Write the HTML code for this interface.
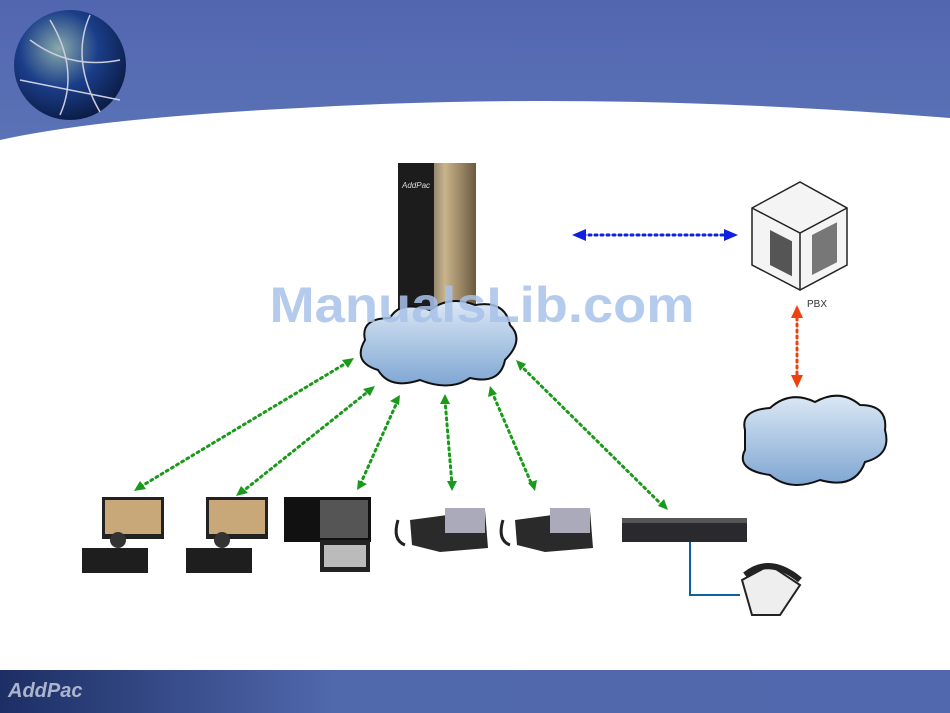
<!DOCTYPE html>
<html><head><style>html,body{margin:0;padding:0;background:#fff}svg{display:block}</style></head>
<body>
<svg width="950" height="713" viewBox="0 0 950 713" xmlns="http://www.w3.org/2000/svg">
<defs>
<linearGradient id="hdr" x1="0" y1="0" x2="0" y2="1"><stop offset="0" stop-color="#5266b0"/><stop offset="1" stop-color="#5a72b6"/></linearGradient>
<linearGradient id="ftr" x1="0" y1="0" x2="1" y2="0"><stop offset="0" stop-color="#1c2e64"/><stop offset="0.35" stop-color="#5068ac"/><stop offset="1" stop-color="#5268ae"/></linearGradient>
<radialGradient id="globe" cx="0.4" cy="0.35" r="0.7"><stop offset="0" stop-color="#8aa"/><stop offset="0.5" stop-color="#1b3e8a"/><stop offset="1" stop-color="#0a1a40"/></radialGradient>
<linearGradient id="cl" x1="0" y1="0" x2="0" y2="1"><stop offset="0" stop-color="#dbe8f5"/><stop offset="1" stop-color="#7fa6d2"/></linearGradient>
<linearGradient id="gw" x1="0" y1="0" x2="1" y2="0"><stop offset="0" stop-color="#222"/><stop offset="0.3" stop-color="#555"/><stop offset="0.6" stop-color="#c9b48a"/><stop offset="1" stop-color="#6b5a40"/></linearGradient>
</defs>
<path d="M0 0H950V118Q600 90 300 108Q100 118 0 140Z" fill="url(#hdr)"/>
<ellipse cx="70" cy="65" rx="56" ry="55" fill="url(#globe)"/>
<path d="M30 40Q70 70 120 60M20 80Q70 90 120 100M50 20Q80 70 60 115M90 15Q70 60 100 112" stroke="#ccd" stroke-width="1.5" fill="none"/>
<rect x="0" y="670" width="950" height="43" fill="url(#ftr)"/>
<text x="8" y="697" font-family="Liberation Sans, sans-serif" font-size="20" font-style="italic" font-weight="bold" fill="#aab4cc">AddPac</text>
<rect x="398" y="163" width="78" height="165" fill="url(#gw)"/>
<rect x="398" y="163" width="36" height="165" fill="#1c1c1c"/>
<text x="402" y="188" font-family="Liberation Sans, sans-serif" font-size="8" font-style="italic" fill="#ddd">AddPac</text>
<g fill="url(#cl)" stroke="#111" stroke-width="2">
<path d="M365 340Q360 318 390 318Q400 300 430 310Q450 295 475 305Q505 300 510 325Q525 340 505 360Q500 385 470 378Q450 392 420 380Q390 390 378 370Q352 362 365 340Z"/>
<path d="M745 430Q740 410 770 408Q790 390 815 402Q840 388 860 405Q888 405 885 430Q892 455 865 462Q855 490 820 480Q790 492 770 475Q735 470 745 450Z"/>
</g>
<text x="482" y="322" text-anchor="middle" font-family="Liberation Sans, sans-serif" font-size="50" font-weight="bold" fill="#a9c2ea" opacity="0.85" textLength="425" lengthAdjust="spacingAndGlyphs">ManualsLib.com</text>
<path d="M752 208L800 182L847 208L847 265L800 290L752 265Z" fill="#f4f4f4" stroke="#222" stroke-width="1.5"/>
<path d="M752 208L800 233L847 208M800 233V290" stroke="#222" fill="none" stroke-width="1.5"/>
<rect x="770" y="230" width="22" height="35" fill="#555" transform="skewY(27)" transform-origin="770 230"/>
<rect x="812" y="235" width="25" height="40" fill="#777" transform="skewY(-27)" transform-origin="812 255"/>
<text x="817" y="307" text-anchor="middle" font-family="Liberation Sans, sans-serif" font-size="10" fill="#333">PBX</text>
<g stroke-width="3" stroke-dasharray="2 4" fill="none" stroke-linecap="round">
<path d="M583 235H730" stroke="#1020e0"/>
<path d="M797 312V380" stroke="#f04010"/>
<g stroke="#1a9a1a">
<path d="M348 362L140 487M370 390L242 492M398 400L360 485M445 400L452 485M492 392L532 485M520 365L662 505"/>
</g></g>
<g fill="#1020e0"><path d="M572 235L586 229V241Z"/><path d="M738 232L724 226V238Z" transform="translate(0 3)"/></g>
<g fill="#f04010"><path d="M797 305L791 318H803Z"/><path d="M797 388L791 375H803Z"/></g>
<g fill="#1a9a1a">
<path d="M354 358l-12 2 6 8z"/><path d="M134 491l12-2-6-8z"/>
<path d="M375 386l-12 3 7 7z"/><path d="M236 496l12-3-7-7z"/>
<path d="M400 395l-10 6 9 4z"/><path d="M357 490l10-6-9-4z"/>
<path d="M445 394l-5 10h10z"/><path d="M452 491l-5-10h10z"/>
<path d="M490 386l-2 11 9-3z"/><path d="M535 491l2-11-9 3z"/>
<path d="M516 360l4 11 6-7z"/><path d="M668 510l-4-11-6 7z"/>
</g>
<g>
<rect x="102" y="497" width="62" height="42" fill="#222"/><rect x="105" y="500" width="56" height="34" fill="#c8a878"/>
<rect x="82" y="548" width="66" height="25" fill="#1e1e1e"/><circle cx="118" cy="540" r="8" fill="#333"/>
<rect x="206" y="497" width="62" height="42" fill="#222"/><rect x="209" y="500" width="56" height="34" fill="#c8a878"/>
<rect x="186" y="548" width="66" height="25" fill="#1e1e1e"/><circle cx="222" cy="540" r="8" fill="#333"/>
<rect x="284" y="497" width="87" height="45" fill="#111"/><rect x="320" y="500" width="48" height="38" fill="#555"/>
<rect x="320" y="540" width="50" height="32" fill="#222"/><rect x="324" y="545" width="42" height="22" fill="#bbb"/>
</g>
<g fill="#2a2a2a">
<path d="M410 520L485 510L488 548L440 552L412 545Z"/><rect x="445" y="508" width="40" height="25" fill="#aab"/>
<path d="M515 520L590 510L593 548L545 552L517 545Z"/><rect x="550" y="508" width="40" height="25" fill="#aab"/>
</g>
<path d="M398 520Q392 540 405 545" stroke="#222" stroke-width="3" fill="none"/>
<path d="M503 520Q497 540 510 545" stroke="#222" stroke-width="3" fill="none"/>
<rect x="622" y="518" width="125" height="24" fill="#2a2a2e"/>
<rect x="622" y="518" width="125" height="5" fill="#555"/>
<path d="M690 542V595H740" stroke="#1060a0" stroke-width="2" fill="none"/>
<path d="M742 580L770 565L800 585L780 615L752 615Z" fill="#eee" stroke="#222" stroke-width="2"/>
<path d="M745 575Q770 555 800 580" stroke="#222" stroke-width="6" fill="none"/>
</svg>
</body></html>
